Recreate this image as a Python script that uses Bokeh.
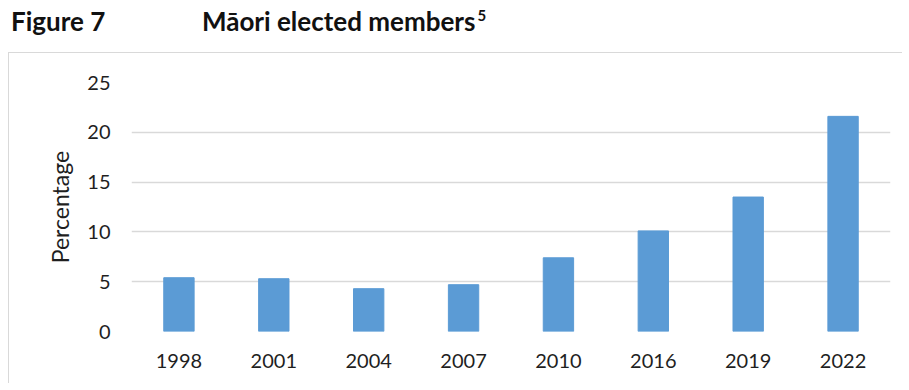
from bokeh.plotting import figure
from bokeh.models import Range1d, FactorRange, FixedTicker, Div
from bokeh.layouts import column
from bokeh.embed import file_html
from bokeh.resources import INLINE

years = ["1998", "2001", "2004", "2007", "2010", "2016", "2019", "2022"]
percentage = [5.4, 5.3, 4.3, 4.7, 7.4, 10.1, 13.5, 21.6]
y_ticks = [0, 5, 10, 15, 20, 25]
fig_label = "Figure 7"
title_text = "Māori elected members"
footnote = "5"

FONT = "Lato"

# ---- heading strip
head_html = (
    f'<div style="position:relative;width:901px;height:52px;font-family:{FONT};'
    f'font-weight:bold;font-size:26px;line-height:26px;color:#111111;">'
    f'<span style="position:absolute;left:11px;top:8px;white-space:nowrap;">{fig_label}</span>'
    f'<span style="position:absolute;left:202px;top:8px;white-space:nowrap;">{title_text}'
    f'<sup style="font-size:15px;line-height:0;vertical-align:10px;margin-left:2px;">{footnote}</sup></span>'
    f'</div>'
)
head = Div(text=head_html, width=901, height=52, margin=0)

# ---- chart
p = figure(x_range=FactorRange(*years, range_padding=0), y_range=Range1d(0, 25),
           width=893, height=330, frame_width=758, frame_height=248,
           min_border_left=122, min_border_right=13, min_border_top=29, min_border_bottom=53,
           margin=(0, 0, 0, 8),
           output_backend="svg", toolbar_location=None)
p.styles = {"border-top": "1.5px solid #d9d9d9", "border-left": "1.5px solid #d9d9d9"}

p.vbar(x=years, top=percentage, width=0.32, color="#5b9bd5")

p.outline_line_color = None
p.xgrid.grid_line_color = None
p.ygrid.grid_line_color = "#d9d9d9"
p.ygrid.grid_line_width = 1.5
p.yaxis.ticker = FixedTicker(ticks=y_ticks)

for ax in (p.xaxis[0], p.yaxis[0]):
    ax.axis_line_color = None
    ax.major_tick_line_color = None
    ax.minor_tick_line_color = None
    ax.major_label_text_font = FONT
    ax.major_label_text_font_size = "20px"
    ax.major_label_text_color = "#1f1f1f"

p.xaxis.major_label_standoff = 16
p.yaxis.major_label_standoff = 15
p.yaxis.axis_label = "Percentage"
p.yaxis.axis_label_text_font = FONT
p.yaxis.axis_label_text_font_size = "23px"
p.yaxis.axis_label_text_font_style = "normal"
p.yaxis.axis_label_text_color = "#1f1f1f"
p.yaxis.axis_label_standoff = 10

layout = column(head, p, spacing=0)
open("out.html", "w").write(file_html(layout, INLINE))
